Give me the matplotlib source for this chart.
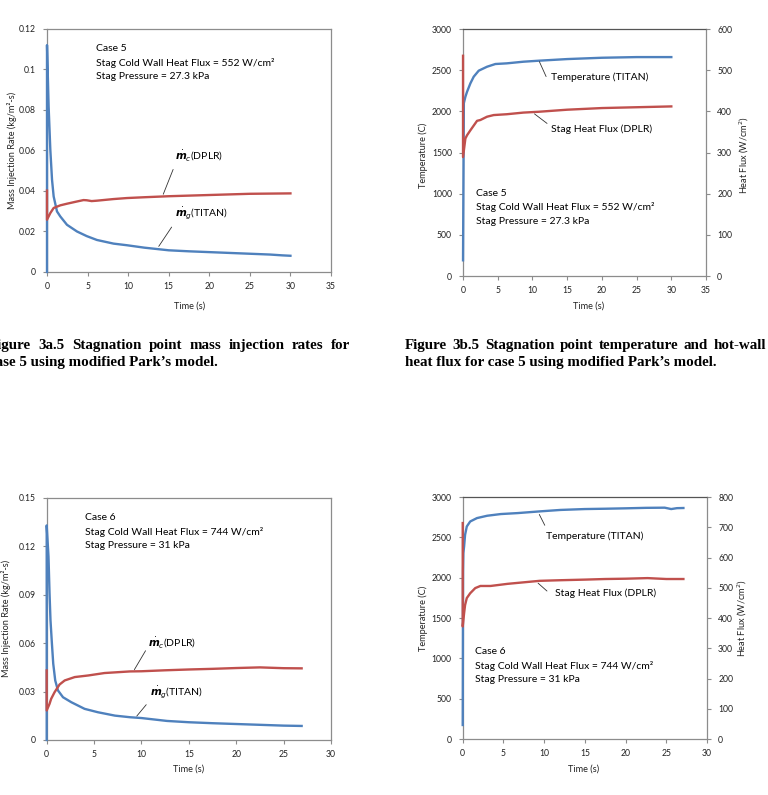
import matplotlib
matplotlib.use("Agg")
import matplotlib.pyplot as plt

plt.rcParams['font.family'] = ['Lato', 'DejaVu Sans']
plt.rcParams['mathtext.fontset'] = 'dejavusans'

BLUE = '#4F81BD'
RED = '#C0504D'
GRID = '#8C8C8C'

# ---- case 5, mass injection rate (kg/m^2-s)
c5_t_titan = [0, 0, 0.2, 0.41, 0.62, 0.82, 1.23, 1.64, 2.46, 3.69, 4.9, 6.15, 8.2, 9.85,
              12, 15, 17.5, 20, 22.5, 25, 27.5, 29, 30]
c5_mg = [0, 0.112, 0.0817, 0.0603, 0.0455, 0.0373, 0.0299, 0.0274, 0.0233, 0.0200, 0.0177,
         0.0158, 0.0140, 0.0132, 0.0120, 0.0107, 0.0102, 0.0098, 0.0094, 0.0090, 0.0086, 0.0082, 0.0080]
c5_t_dplr = [0, 0, 0.41, 0.82, 1.64, 2.46, 3.69, 4.5, 4.9, 5.5, 6.15, 8.2, 9.85, 12, 15,
             17.5, 20, 22.5, 25, 27.5, 30]
c5_mc = [0.0402, 0.0258, 0.0291, 0.0316, 0.0329, 0.0337, 0.0348, 0.0355, 0.0354, 0.0350,
         0.0352, 0.0360, 0.0365, 0.0369, 0.0374, 0.0377, 0.0380, 0.0383, 0.0386, 0.0387, 0.0388]

# ---- case 5, temperature (C) and stag heat flux (W/cm^2)
c5_t_temp = [0, 0.12, 0.34, 0.58, 1.06, 1.54, 2.26, 3.46, 4.66, 6.3, 8.7, 10.9, 15, 20, 25, 30]
c5_temp = [191, 2100, 2177, 2238, 2340, 2421, 2494, 2542, 2575, 2583, 2603, 2615, 2635, 2651, 2659, 2659]
c5_t_flux = [0, 0, 0.34, 0.58, 1.06, 2.02, 2.5, 3.46, 4.42, 6.3, 8.7, 10.9, 15, 20, 25, 30]
c5_flux = [535, 289, 334, 342, 354, 377, 379, 387, 391, 393, 397, 399, 404, 408, 410, 412]

# ---- case 6, mass injection rate
c6_t_titan = [0, 0, 0.19, 0.3, 0.4, 0.55, 0.69, 0.9, 1.19, 1.72, 2.6, 4.0, 5.4, 7.2, 8.8,
              10, 12.7, 15, 17.5, 20, 22.5, 25, 26.9]
c6_mg = [0, 0.133, 0.1137, 0.0909, 0.0743, 0.0598, 0.0473, 0.0369, 0.0307, 0.0265, 0.0234,
         0.0193, 0.0172, 0.0151, 0.0141, 0.0136, 0.0118, 0.0110, 0.0104, 0.0099, 0.0094, 0.0089, 0.0087]
c6_t_dplr = [0, 0, 0.3, 0.47, 0.83, 1.36, 1.9, 2.96, 4.4, 6.1, 8.8, 10, 12.5, 15, 17.5,
             20, 22.5, 25, 26.9]
c6_mc = [0.0431, 0.0183, 0.0224, 0.0255, 0.0296, 0.0344, 0.0369, 0.0390, 0.0400, 0.0415,
         0.0425, 0.0426, 0.0432, 0.0437, 0.0441, 0.0446, 0.0450, 0.0445, 0.0444]

# ---- case 6, temperature and heat flux
c6_t_temp = [0, 0.04, 0.08, 0.17, 0.29, 0.5, 0.92, 1.75, 3.0, 4.67, 6.75, 9.45, 12, 15,
             17.5, 20, 22.5, 24.8, 25.6, 26.3, 27.1]
c6_temp = [174, 2078, 2305, 2388, 2532, 2635, 2697, 2739, 2768, 2789, 2801, 2822, 2840,
           2851, 2855, 2860, 2866, 2868, 2851, 2862, 2864]
c6_t_flux = [0, 0, 0.17, 0.29, 0.5, 0.92, 1.54, 2.17, 3.42, 5.5, 9.45, 12, 15, 17.5, 20,
             22.7, 25, 27.1]
c6_flux = [714, 372, 416, 443, 466, 482, 499, 506, 506, 513, 523, 525, 527, 529, 530, 532, 529, 529]

case_info = {
    5: ['Case 5', 'Stag Cold Wall Heat Flux = 552 W/cm²', 'Stag Pressure = 27.3 kPa'],
    6: ['Case 6', 'Stag Cold Wall Heat Flux = 744 W/cm²', 'Stag Pressure = 31 kPa'],
}

captions = [
    ['Figure 3a.5 Stagnation point mass injection rates for',
     'case 5 using modified Park\u2019s model.'],
    ['Figure 3b.5 Stagnation point temperature and hot-wall',
     'heat flux for case 5 using modified Park\u2019s model.'],
]

TICK_FS = 6.2
TEXT_FS = 7.5
W, H = 768, 795

fig = plt.figure(figsize=(7.68, 7.95), dpi=100)


def style_axes(ax, xmax, ymax, ystep, yfmt):
    ax.set_xlim(0, xmax)
    ax.set_ylim(0, ymax)
    ax.set_xticks(range(0, xmax + 1, 5))
    yt = [i * ystep for i in range(int(round(ymax / ystep)) + 1)]
    ax.set_yticks(yt)
    ax.set_yticklabels([yfmt(v) for v in yt])
    for s in ax.spines.values():
        s.set_color(GRID)
        s.set_linewidth(0.9)
    ax.tick_params(direction='out', length=3, width=0.8, color=GRID,
                   labelsize=TICK_FS, labelcolor='#222222')
    ax.tick_params(axis='y', pad=5)
    ax.tick_params(axis='x', pad=4)


def fmt_mass(v):
    if v == 0:
        return '0'
    return ('%.2f' % v).rstrip('0').rstrip('.')


def curve(ax, t, y, color):
    ax.plot(t, y, color=color, lw=1.7, clip_on=False, zorder=3)


def case_text(ax, x, ys, case):
    for y, line in zip(ys, case_info[case]):
        ax.text(x, y, line, fontsize=TEXT_FS, va='center', ha='left')


def mdot_label(ax, sub, name, txy, xy_from, xy_to):
    ax.text(txy[0], txy[1], r'$\dot{\mathbfit{m}}_{\mathit{%s}}$(%s)' % (sub, name),
            fontsize=TEXT_FS, va='center', ha='left')
    ax.annotate('', xy=xy_to, xytext=xy_from,
                arrowprops=dict(arrowstyle='-', color='#333333', lw=0.6))


def note(ax, txt, txy, xy_from, xy_to):
    ax.text(txy[0], txy[1], txt, fontsize=TEXT_FS, va='center', ha='left')
    ax.annotate('', xy=xy_to, xytext=xy_from,
                arrowprops=dict(arrowstyle='-', color='#333333', lw=0.6))


# ---------------- panel 1: case 5 mass injection
ax1 = fig.add_axes([0.0612, 0.6579, 0.3698, 0.3057])
curve(ax1, c5_t_titan, c5_mg, BLUE)
curve(ax1, c5_t_dplr, c5_mc, RED)
style_axes(ax1, 35, 0.12, 0.02, fmt_mass)
case_text(ax1, 6.05, [0.1101, 0.1032, 0.0963], 5)
mdot_label(ax1, 'c', 'DPLR', (15.8, 0.0574), (15.67, 0.0519), (14.2, 0.0371))
mdot_label(ax1, 'g', 'TITAN', (15.8, 0.0292), (15.55, 0.0233), (13.58, 0.0115))

# ---------------- panel 2: case 5 temperature / heat flux
ax2 = fig.add_axes([0.6029, 0.6528, 0.3164, 0.3107])
curve(ax2, c5_t_temp, c5_temp, BLUE)
style_axes(ax2, 35, 3000, 500, lambda v: '%d' % v)
ax2.spines['top'].set_color('#555555')
ax2r = ax2.twinx()
curve(ax2r, c5_t_flux, c5_flux, RED)
ax2r.set_ylim(0, 600)
ax2r.set_yticks(range(0, 601, 100))
ax2r.tick_params(direction='out', length=3, width=0.8, color=GRID, pad=5,
                 labelsize=TICK_FS, labelcolor='#222222')
for s in ax2r.spines.values():
    s.set_visible(False)
case_text(ax2, 1.91, [1003, 833, 663], 5)
note(ax2, 'Temperature (TITAN)', (12.7, 2417), (12.13, 2392), (10.83, 2635))
note(ax2, 'Stag Heat Flux (DPLR)', (12.7, 1784), (12.42, 1833), (9.97, 1990))

# ---------------- panel 3: case 6 mass injection
ax3 = fig.add_axes([0.0608, 0.0692, 0.3702, 0.3044])
curve(ax3, c6_t_titan, c6_mg, BLUE)
curve(ax3, c6_t_dplr, c6_mc, RED)
style_axes(ax3, 30, 0.15, 0.03, fmt_mass)
case_text(ax3, 4.04, [0.1377, 0.1290, 0.1203], 6)
mdot_label(ax3, 'c', 'DPLR', (10.69, 0.0606), (10.58, 0.0568), (9.1, 0.0421))
mdot_label(ax3, 'g', 'TITAN', (10.9, 0.0294), (10.69, 0.0232), (9.32, 0.0135))

# ---------------- panel 4: case 6 temperature / heat flux
ax4 = fig.add_axes([0.6025, 0.0704, 0.3181, 0.3044])
curve(ax4, c6_t_temp, c6_temp, BLUE)
style_axes(ax4, 30, 3000, 500, lambda v: '%d' % v)
ax4.spines['top'].set_color('#555555')
ax4r = ax4.twinx()
curve(ax4r, c6_t_flux, c6_flux, RED)
ax4r.set_ylim(0, 800)
ax4r.set_yticks(range(0, 801, 100))
ax4r.tick_params(direction='out', length=3, width=0.8, color=GRID, pad=5,
                 labelsize=TICK_FS, labelcolor='#222222')
for s in ax4r.spines.values():
    s.set_visible(False)
case_text(ax4, 1.51, [1080, 906, 732], 6)
note(ax4, 'Temperature (TITAN)', (10.23, 2520), (10.23, 2619), (9.25, 2815))
note(ax4, 'Stag Heat Flux (DPLR)', (11.33, 1812), (10.6, 1812), (9.0, 1955))

# ---------------- axis titles (placed like the Excel originals)
lab = dict(fontsize=6.6, color='#222222', ha='center', va='center')
fig.text(0.0150, 0.8110, 'Mass Injection Rate (kg/m²-s)', rotation=90, **lab)
fig.text(0.5510, 0.8050, 'Temperature (C)', rotation=90, **lab)
fig.text(0.9690, 0.8050, 'Heat Flux (W/cm$^2$)', rotation=90, **lab)
fig.text(0.2470, 0.6150, 'Time (s)', **lab)
fig.text(0.7670, 0.6150, 'Time (s)', **lab)
fig.text(0.0080, 0.2220, 'Mass Injection Rate (kg/m²-s)', rotation=90, **lab)
fig.text(0.5510, 0.2220, 'Temperature (C)', rotation=90, **lab)
fig.text(0.9660, 0.2220, 'Heat Flux (W/cm$^2$)', rotation=90, **lab)
fig.text(0.2450, 0.0327, 'Time (s)', **lab)
fig.text(0.7600, 0.0327, 'Time (s)', **lab)

# ---------------- figure captions: first line justified, second line flush left
cap = dict(fontsize=10.8, fontweight='bold', family='Liberation Serif', va='center', ha='left')
renderer = fig.canvas.get_renderer()


def justified(line, x0, x1, y):
    words = line.split(' ')
    arts = [fig.text(0, y, w, **cap) for w in words]
    widths = [a.get_window_extent(renderer).width for a in arts]
    gap = (x1 - x0 - sum(widths)) / (len(words) - 1)
    x = x0
    for a, w in zip(arts, widths):
        a.set_x(x / W)
        x += w + gap


for (l1, l2), (x0, x1) in zip(captions, [(-11, 350), (405, 766)]):
    justified(l1, x0, x1, 0.5660)
    fig.text(x0 / W, 0.5435, l2, **cap)

fig.savefig('out.png', dpi=100)
